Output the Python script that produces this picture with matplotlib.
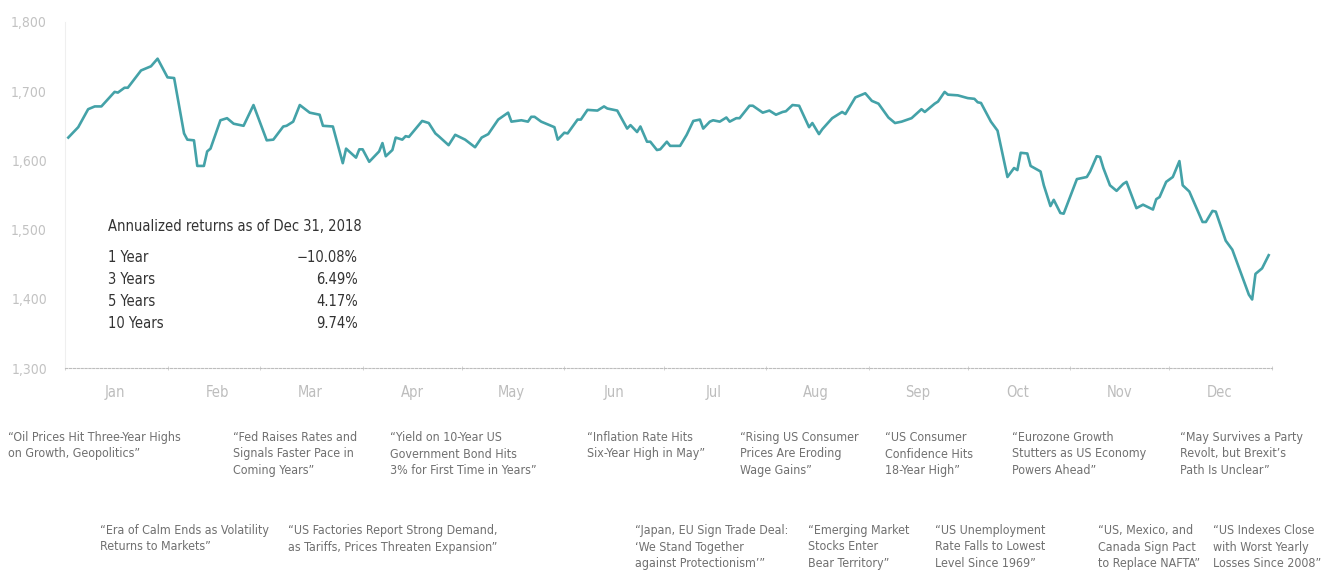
import numpy as np
import pandas as pd
import matplotlib
matplotlib.use('Agg')
import matplotlib.pyplot as plt
import matplotlib.dates as mdates
from matplotlib import font_manager
from matplotlib.font_manager import FontProperties

# index level: days since Jan 1 2018, and level
days = [1, 4, 7, 9, 11, 15, 16, 18, 19, 23, 26, 28, 31, 33, 36, 37, 39, 40, 42, 43,
        44, 47, 49, 51, 54, 57, 61, 63, 66, 67, 69, 71, 74, 77, 78, 81, 84, 85, 88, 89,
        90, 92, 95, 96, 97, 99, 100, 102, 103, 104, 108, 110, 112, 113, 116, 118, 121, 124, 126, 128,
        131, 134, 135, 138, 140, 141, 142, 144, 148, 149, 151, 152, 155, 156, 158, 161, 163, 164, 167, 170,
        171, 173, 174, 176, 177, 179, 180, 182, 183, 186, 188, 190, 192, 193, 195, 196, 198, 200, 201, 203,
        204, 207, 208, 211, 213, 215, 217, 218, 220, 222, 225, 226, 228, 229, 232, 235, 236, 239, 242, 244,
        246, 249, 251, 253, 256, 259, 260, 263, 264, 266, 267, 270, 273, 275, 276, 277, 280, 282, 285, 287,
        288, 289, 291, 292, 295, 296, 298, 299, 301, 302, 306, 309, 310, 312, 313, 314, 316, 318, 320, 321,
        324, 326, 329, 330, 331, 333, 335, 337, 338, 340, 344, 345, 347, 348, 351, 353, 358, 359, 360, 362,
        364]
level = [1633, 1648, 1674, 1678, 1678, 1699, 1698, 1705, 1705, 1730, 1736, 1747, 1720, 1719, 1639, 1630, 1629, 1592, 1592, 1613,
         1617, 1658, 1661, 1653, 1650, 1680, 1629, 1630, 1649, 1650, 1656, 1680, 1669, 1666, 1650, 1649, 1596, 1617, 1604, 1616,
         1616, 1598, 1613, 1625, 1606, 1615, 1633, 1630, 1635, 1634, 1657, 1654, 1639, 1635, 1622, 1637, 1630, 1619, 1633, 1638,
         1659, 1669, 1656, 1658, 1656, 1663, 1663, 1656, 1648, 1630, 1640, 1639, 1659, 1659, 1673, 1672, 1678, 1675, 1672, 1646,
         1651, 1641, 1649, 1627, 1627, 1615, 1616, 1627, 1621, 1621, 1637, 1657, 1659, 1646, 1656, 1658, 1656, 1662, 1656, 1661,
         1661, 1679, 1679, 1669, 1672, 1666, 1670, 1671, 1680, 1679, 1648, 1654, 1638, 1645, 1661, 1670, 1667, 1691, 1697, 1686,
         1682, 1662, 1654, 1656, 1661, 1674, 1670, 1682, 1685, 1699, 1695, 1694, 1690, 1689, 1684, 1683, 1656, 1643, 1576, 1589,
         1586, 1611, 1610, 1592, 1584, 1564, 1534, 1543, 1524, 1523, 1573, 1576, 1584, 1606, 1605, 1589, 1564, 1556, 1566, 1569,
         1531, 1536, 1529, 1544, 1547, 1569, 1576, 1599, 1564, 1555, 1511, 1511, 1527, 1526, 1484, 1471, 1406, 1399, 1436, 1444,
         1463]

y_ticks = [1300, 1400, 1500, 1600, 1700, 1800]

table_title = 'Annualized returns as of Dec 31, 2018'
periods = ['1 Year', '3 Years', '5 Years', '10 Years']
returns = ['\u221210.08%', '6.49%', '4.17%', '9.74%']

headlines_top = [
    '\u201cOil Prices Hit Three-Year Highs\non Growth, Geopolitics\u201d',
    '\u201cFed Raises Rates and\nSignals Faster Pace in\nComing Years\u201d',
    '\u201cYield on 10-Year US\nGovernment Bond Hits\n3% for First Time in Years\u201d',
    '\u201cInflation Rate Hits\nSix-Year High in May\u201d',
    '\u201cRising US Consumer\nPrices Are Eroding\nWage Gains\u201d',
    '\u201cUS Consumer\nConfidence Hits\n18-Year High\u201d',
    '\u201cEurozone Growth\nStutters as US Economy\nPowers Ahead\u201d',
    '\u201cMay Survives a Party\nRevolt, but Brexit\u2019s\nPath Is Unclear\u201d',
]
headlines_bottom = [
    '\u201cEra of Calm Ends as Volatility\nReturns to Markets\u201d',
    '\u201cUS Factories Report Strong Demand,\nas Tariffs, Prices Threaten Expansion\u201d',
    '\u201cJapan, EU Sign Trade Deal:\n\u2018We Stand Together\nagainst Protectionism\u2019\u201d',
    '\u201cEmerging Market\nStocks Enter\nBear Territory\u201d',
    '\u201cUS Unemployment\nRate Falls to Lowest\nLevel Since 1969\u201d',
    '\u201cUS, Mexico, and\nCanada Sign Pact\nto Replace NAFTA\u201d',
    '\u201cUS Indexes Close\nwith Worst Yearly\nLosses Since 2008\u201d',
]
# left edge of each headline, in pixels
top_x = [8, 233, 390, 587, 740, 885, 1012, 1180]
bottom_x = [100, 288, 635, 808, 935, 1098, 1213]


def find_narrow():
    # look for any condensed / narrow regular sans face
    best = None
    for f in font_manager.fontManager.ttflist:
        nm = f.name.lower()
        fn = f.fname.lower()
        cond = ('narrow' in nm or 'condensed' in nm or 'condensed' in fn
                or 'narrow' in fn or 'condensed' in str(f.stretch))
        if not cond or 'semi' in fn or 'extra' in fn or 'ultra' in fn:
            continue
        if f.style != 'normal' or f.weight not in (400, 'normal', 'regular'):
            continue
        if 'mono' in nm or 'serif' in nm and 'sans' not in nm:
            continue
        best = f.fname
        if 'sans' in nm:
            break
    return best


narrow_file = find_narrow()


def fp():
    if narrow_file:
        return FontProperties(fname=narrow_file)
    return FontProperties(family='Liberation Sans')


W, H = 1329, 581
fig = plt.figure(figsize=(W / 100, H / 100), dpi=100)
ax = fig.add_axes([65 / W, 1 - 368 / H, 1207 / W, 346 / H])

start = pd.Timestamp('2018-01-01')
dates = start + pd.to_timedelta(days, unit='D')
ax.plot(dates, level, color='#44a2a8', lw=1.9, solid_joinstyle='round')

ax.set_ylim(1300, 1800)
ax.set_xlim(start, start + pd.Timedelta(days=365))
ax.set_yticks(y_ticks)
ax.set_yticklabels([f'{v:,}' for v in y_ticks])

ax.xaxis.set_major_locator(mdates.MonthLocator(bymonthday=16))
ax.xaxis.set_major_formatter(mdates.DateFormatter('%b'))
ax.xaxis.set_minor_locator(mdates.MonthLocator())
ax.tick_params(axis='x', which='major', length=0, pad=12, labelcolor='#bdbdbd')
ax.tick_params(axis='x', which='minor', length=3, color='#cccccc', direction='inout')
ax.tick_params(axis='y', length=0, pad=13, labelcolor='#c2c2c2')
for lab in ax.get_xticklabels():
    lab.set_fontproperties(fp())
    lab.set_fontsize(10.5)
for lab in ax.get_yticklabels():
    lab.set_fontproperties(fp())
    lab.set_fontsize(10)

for s in ['top', 'right']:
    ax.spines[s].set_visible(False)
ax.spines['left'].set_color('#efefef')
ax.spines['left'].set_linewidth(0.8)
ax.spines['bottom'].set_color('#bdbdbd')
ax.spines['bottom'].set_linewidth(0.8)
ax.spines['bottom'].set_linestyle((0, (2, 1.5)))

renderer = fig.canvas.get_renderer()


def fit_size(sample, width_px, base=10.0):
    # font size that makes sample span width_px
    t = fig.text(0, 0, sample, fontproperties=fp(), fontsize=base)
    w = t.get_window_extent(renderer).width
    t.remove()
    return base * width_px / w


title_size = fit_size(table_title, 252)
head_size = fit_size('\u201cOil Prices Hit Three-Year Highs', 174)

# returns table
fig.text(108 / W, 1 - 227 / H, table_title, fontproperties=fp(), fontsize=title_size,
         color='#333333', va='center', ha='left')
row_y = [258, 280, 301, 323]
for p, r, yy in zip(periods, returns, row_y):
    fig.text(108 / W, 1 - yy / H, p, fontproperties=fp(), fontsize=title_size,
             color='#333333', va='center', ha='left')
    fig.text(358 / W, 1 - yy / H, r, fontproperties=fp(), fontsize=title_size,
             color='#333333', va='center', ha='right')

# headlines
for txt, xx in zip(headlines_top, top_x):
    fig.text(xx / W, 1 - 431 / H, txt, fontproperties=fp(), fontsize=head_size,
             color='#707070', va='top', ha='left', linespacing=1.35)
for txt, xx in zip(headlines_bottom, bottom_x):
    fig.text(xx / W, 1 - 524 / H, txt, fontproperties=fp(), fontsize=head_size,
             color='#707070', va='top', ha='left', linespacing=1.35)

fig.savefig('out.png', dpi=100, facecolor='white')
